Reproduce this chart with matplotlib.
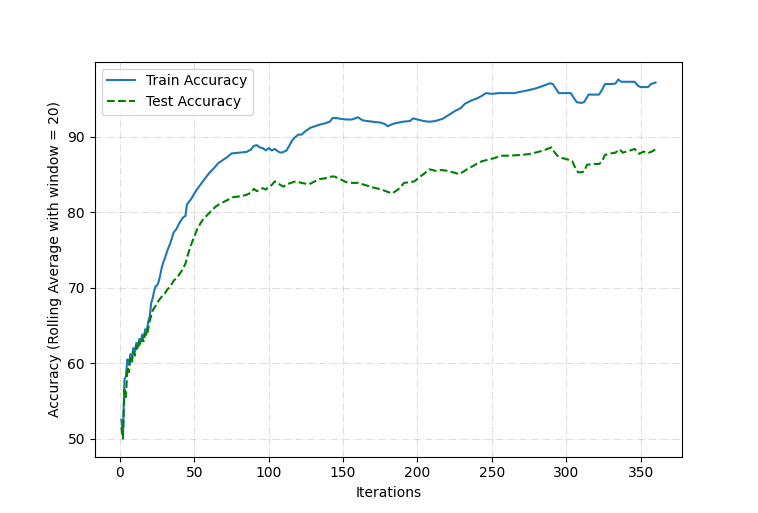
import matplotlib
matplotlib.use("Agg")
import matplotlib.pyplot as plt

train_iter = [1, 2, 3, 4, 5, 6, 7, 8, 9, 10, 11, 12, 13, 14, 15, 16, 17, 18, 19, 20,
              21, 22, 23, 24, 25, 26, 27, 28, 29, 30, 32, 34, 35, 36, 38, 40, 42, 43, 44, 45,
              46, 48, 50, 52, 55, 58, 60, 63, 66, 69, 72, 75, 80, 85, 88, 90, 92, 94, 96, 98,
              100, 102, 104, 106, 108, 110, 112, 114, 116, 118, 120, 122, 125, 128, 131, 134,
              138, 141, 143, 145, 148, 152, 156, 160, 163, 166, 170, 175, 178, 180, 182, 185,
              190, 195, 197, 200, 204, 208, 212, 217, 221, 225, 229, 232, 236, 240, 243, 246,
              250, 255, 260, 265, 270, 275, 280, 285, 289, 291, 293, 295, 300, 303, 305, 307,
              310, 312, 315, 318, 322, 324, 326, 330, 333, 335, 337, 340, 346, 348, 350, 353,
              355, 357, 360]
train_acc = [52.5, 50.3, 57.8, 58.3, 60.5, 59.8, 61.2, 60.6, 62.0, 61.5, 62.7, 62.2, 63.2, 62.9,
             63.8, 63.4, 64.5, 64.2, 65.5, 66.2,
             68.0, 68.6, 69.6, 70.2, 70.3, 70.8, 71.6, 72.6, 73.3, 73.8, 75.0, 76.0, 76.6, 77.3,
             77.8, 78.6, 79.2, 79.4, 79.5, 81.0,
             81.3, 81.8, 82.5, 83.1, 83.9, 84.7, 85.2, 85.8, 86.5, 86.9, 87.3, 87.8, 87.9, 88.0,
             88.3, 88.8, 88.9, 88.6, 88.5, 88.2,
             88.5, 88.2, 88.4, 88.1, 87.9, 88.0, 88.2, 88.9, 89.6, 90.0, 90.3, 90.3, 90.8, 91.2,
             91.4, 91.6,
             91.8, 92.0, 92.5, 92.5, 92.4, 92.3, 92.3, 92.6, 92.2, 92.1, 92.0, 91.9, 91.7, 91.4,
             91.6, 91.8,
             92.0, 92.1, 92.45, 92.3, 92.1, 92.0, 92.1, 92.4, 92.9, 93.4, 93.8, 94.4, 94.8, 95.1,
             95.4, 95.8,
             95.7, 95.8, 95.8, 95.8, 96.0, 96.2, 96.45, 96.8, 97.1, 97.0, 96.4, 95.8, 95.8, 95.8,
             95.2, 94.6,
             94.5, 94.6, 95.6, 95.6, 95.6, 96.2, 97.0, 97.0, 97.05, 97.6, 97.3, 97.3, 97.3, 96.8,
             96.6, 96.6,
             96.6, 97.0, 97.2]

test_iter = [1, 2, 3, 4, 5, 6, 7, 8, 9, 10, 11, 12, 13, 14, 15, 16, 17, 18, 19, 20,
             22, 24, 26, 28, 30, 32, 34, 36, 38, 40, 42, 44, 46, 48, 50, 52, 54, 56, 58, 60,
             62, 64, 67, 70, 73, 76, 80, 85, 88, 90, 92, 94, 96, 98, 100, 102, 104, 106, 108,
             110, 112, 115, 118, 122, 127, 131, 134, 138, 141, 144, 148, 152, 156, 160, 165,
             170, 176, 180, 183, 186, 188, 191, 195, 198, 201, 205, 208, 212, 216, 220, 224,
             228, 231, 234, 238, 241, 244, 248, 252, 256, 260, 265, 270, 276, 282, 286, 290,
             292, 294, 297, 301, 304, 306, 308, 310, 312, 314, 318, 322, 324, 326, 330, 333,
             336, 338, 341, 343, 346, 349, 352, 355, 358, 360]
test_acc = [51.5, 50.0, 56.5, 55.5, 59.5, 58.8, 60.8, 60.2, 61.5, 61.0, 62.3, 61.8, 62.8, 62.4,
            63.3, 62.9, 64.0, 63.6, 64.6, 65.6,
            67.0, 67.6, 68.3, 68.8, 69.2, 69.8, 70.2, 70.9, 71.3, 71.8, 72.4, 73.2, 74.6, 75.8,
            76.8, 77.8, 78.5, 79.1, 79.5, 79.9,
            80.3, 80.7, 81.1, 81.4, 81.7, 82.0, 82.1, 82.3, 82.6, 83.1, 82.8, 83.0, 83.2, 83.0,
            83.4, 83.6, 84.1, 83.9, 83.6,
            83.4, 83.7, 83.9, 84.1, 83.9, 83.7, 84.1, 84.4, 84.5, 84.7, 84.75, 84.4, 84.0, 83.9,
            83.9, 83.6,
            83.3, 83.0, 82.7, 82.5, 82.9, 83.2, 83.9, 84.0, 84.1, 84.6, 85.2, 85.7, 85.5, 85.6,
            85.5, 85.3,
            85.05, 85.4, 85.8, 86.2, 86.6, 86.8, 87.0, 87.2, 87.5, 87.5, 87.55, 87.6, 87.75,
            88.05, 88.3, 88.6,
            88.0, 87.5, 87.2, 87.0, 86.8, 85.9, 85.3, 85.3, 85.4, 86.3, 86.4, 86.4, 86.7, 87.6,
            87.8, 87.9,
            88.35, 87.9, 88.1, 88.2, 88.4, 87.75, 88.05, 87.85, 88.1, 88.35]

fig, ax = plt.subplots(figsize=(7.58, 5.13), dpi=100)
ax.plot(train_iter, train_acc, color="tab:blue", label="Train Accuracy")
ax.plot(test_iter, test_acc, color="green", linestyle="--", label="Test Accuracy")
ax.set_xlabel("Iterations")
ax.set_ylabel("Accuracy (Rolling Average with window = 20)")
ax.grid(True, linestyle="-.", alpha=0.4)
ax.legend(loc="upper left")
fig.savefig("out.png", dpi=100)
